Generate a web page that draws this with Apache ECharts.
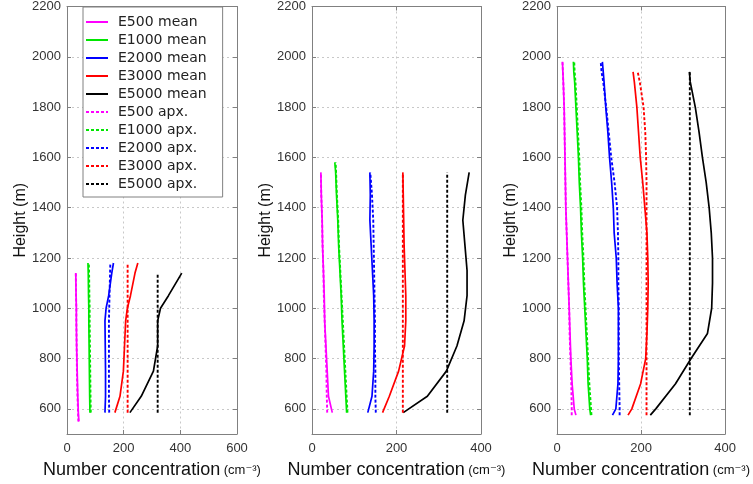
<!DOCTYPE html>
<html>
<head>
<meta charset="utf-8">
<script src="https://cdn.jsdelivr.net/npm/echarts@6/dist/echarts.min.js"></script>
<style>
  html, body { margin: 0; padding: 0; background: #fff; }
  #chart { width: 753px; height: 484px; }
</style>
</head>
<body>
<div id="chart"></div>
<script>
// Vertical profiles of number concentration for five emission cases,
// measured mean (solid) versus approximation (dashed), in three panels.

const seriesNames = ['E500', 'E1000', 'E2000', 'E3000', 'E5000'];
const seriesColors = ['#ff00ff', '#00e600', '#0000ff', '#ff0000', '#000000'];

const yTicks = [600, 800, 1000, 1200, 1400, 1600, 1800, 2000, 2200];

// ---- Panel 1 ----
const p1Heights = [550, 585, 650, 750, 850, 950, 1000, 1050, 1140, 1180];
const p1E500Mean  = [42, 40, 38, 36, 34, 33, 33, 32, 31, null];
const p1E500Apx   = [40, 39, 37, 35, 34, 33, 33, 32, 31, null];
const p1E1000Mean = [null, 81, 80, 79, 78, 77, 77, 76, 75, 74];
const p1E1000Apx  = [null, 84, 83, 82, 81, 80, 80, 79, 78, 77];
const p1E2000Mean = [null, 134, 136, 136, 135, 134, 138, 147, 158, 164];
const p1E2000Apx  = [null, 149, 148, 148, 148, 148, 149, 150, 152, 153];
const p1E3000Mean = [null, 169, 187, 199, 203, 207, 213, 224, 240, 250];
const p1E3000Apx  = [null, 214, 214, 214, 214, 214, 214, 214, 214, 214];
const p1E5000Mean = [null, 222, 262, 305, 320, 320, 330, 358, 405, null];
const p1E5000Apx  = [null, 320, 320, 320, 320, 320, 320, 320, 320, null];

// ---- Panel 2 ----
const p2Heights = [585, 650, 750, 850, 950, 1050, 1150, 1250, 1350, 1450, 1540, 1580];
const p2E500Mean  = [48, 39, 36, 33, 30, 29, 27, 25, 24, 22, 21, null];
const p2E500Apx   = [36, 35, 34, 32, 30, 28, 27, 25, 24, 22, 21, null];
const p2E1000Mean = [82, 80, 77, 74, 71, 69, 66, 63, 61, 58, 56, 54];
const p2E1000Apx  = [84, 82, 79, 76, 73, 70, 67, 64, 62, 59, 57, 56];
const p2E2000Mean = [132, 142, 146, 147, 147, 146, 143, 140, 137, 138, 137, null];
const p2E2000Apx  = [151, 150, 150, 149, 149, 148, 147, 146, 145, 142, 138, null];
const p2E3000Mean = [167, 183, 205, 219, 222, 222, 220, 218, 217, 216, 215, null];
const p2E3000Apx  = [215, 215, 215, 215, 215, 215, 215, 215, 215, 215, 215, null];
const p2E5000Mean = [216, 273, 318, 343, 360, 367, 367, 362, 357, 363, 372, null];
const p2E5000Apx  = [320, 320, 320, 320, 320, 320, 320, 320, 320, 320, 320, null];

// ---- Panel 3 ----
const p3Heights = [575, 600, 700, 800, 900, 1000, 1100, 1200, 1300, 1400, 1500, 1600, 1700, 1800, 1900, 1940, 1980];
const p3E500Mean  = [45, 41, 36, 33, 31, 29, 27, 25, 23, 21, 20, 19, 18, 17, 15, 14, 13];
const p3E500Apx   = [35, 35, 34, 32, 30, 29, 27, 25, 23, 21, 20, 19, 18, 17, 15, 14, 13];
const p3E1000Mean = [80, 78, 74, 72, 69, 66, 63, 61, 58, 56, 53, 51, 48, 45, 42, 40, 39];
const p3E1000Apx  = [82, 81, 77, 74, 71, 68, 65, 63, 60, 58, 55, 53, 50, 47, 44, 42, 41];
const p3E2000Mean = [132, 140, 145, 146, 146, 146, 143, 141, 136, 134, 130, 125, 121, 116, 112, 110, 108];
const p3E2000Apx  = [149, 149, 148, 147, 147, 147, 146, 146, 145, 143, 137, 129, 123, 117, 110, 106, 104];
const p3E3000Mean = [169, 178, 199, 211, 214, 216, 217, 216, 214, 209, 204, 198, 194, 190, 184, 181, null];
const p3E3000Apx  = [213, 213, 213, 213, 213, 213, 213, 213, 213, 213, 213, 212, 210, 206, 197, 192, null];
const p3E5000Mean = [222, 235, 282, 319, 358, 368, 370, 370, 367, 362, 355, 346, 338, 329, 317, 315, null];
const p3E5000Apx  = [316, 316, 316, 316, 316, 316, 316, 316, 316, 316, 316, 316, 316, 316, 316, 316, null];

const panels = [
  { heights: p1Heights, xMax: 600,
    mean: [p1E500Mean, p1E1000Mean, p1E2000Mean, p1E3000Mean, p1E5000Mean],
    apx:  [p1E500Apx,  p1E1000Apx,  p1E2000Apx,  p1E3000Apx,  p1E5000Apx] },
  { heights: p2Heights, xMax: 400,
    mean: [p2E500Mean, p2E1000Mean, p2E2000Mean, p2E3000Mean, p2E5000Mean],
    apx:  [p2E500Apx,  p2E1000Apx,  p2E2000Apx,  p2E3000Apx,  p2E5000Apx] },
  { heights: p3Heights, xMax: 400,
    mean: [p3E500Mean, p3E1000Mean, p3E2000Mean, p3E3000Mean, p3E5000Mean],
    apx:  [p3E500Apx,  p3E1000Apx,  p3E2000Apx,  p3E3000Apx,  p3E5000Apx] }
];

const gridLefts = [67, 312, 557];
const gridWidths = [170, 169, 169];

function profile(values, heights) {
  const out = [];
  heights.forEach((h, i) => { if (values[i] != null) out.push([values[i], h]); });
  return out;
}

const plain = v => String(v);
const labelFont = { fontFamily: 'Liberation Sans, Arial, sans-serif', fontSize: 13, color: '#333' };
const gridLine = { show: true, lineStyle: { color: '#c8c8c8', type: [2, 3], width: 1 } };
const boxLine = { show: true, onZero: false, lineStyle: { color: '#808080', width: 1 } };
const tickIn = { show: true, inside: true, length: 4, lineStyle: { color: '#808080' } };

const grid = [], xAxis = [], yAxis = [], series = [];

panels.forEach((p, k) => {
  grid.push({ left: gridLefts[k], top: 6, width: gridWidths[k], height: 429 });

  // bottom value axis
  xAxis.push({
    type: 'value', gridIndex: k, min: 0, max: p.xMax, interval: 200,
    axisLine: boxLine, axisTick: tickIn, splitLine: gridLine,
    axisLabel: Object.assign({ margin: 8, formatter: plain }, labelFont),
    name: '{a|Number concentration}{b| (cm\u207B\u00B3)}',
    nameLocation: 'middle', nameGap: 27,
    nameTextStyle: {
      rich: {
        a: { fontFamily: 'Liberation Sans, Arial, sans-serif', fontSize: 18, color: '#111' },
        b: { fontFamily: 'Liberation Sans, DejaVu Sans, sans-serif', fontSize: 13, color: '#111' }
      }
    }
  });
  // left value axis
  yAxis.push({
    type: 'value', gridIndex: k, min: 500, max: 2200,
    axisLine: boxLine,
    axisTick: Object.assign({ customValues: yTicks }, tickIn),
    splitLine: gridLine,
    axisLabel: Object.assign({ margin: 6, customValues: yTicks, formatter: plain }, labelFont),
    name: 'Height (m)', nameLocation: 'middle', nameGap: 31,
    nameTextStyle: { fontFamily: 'Liberation Sans, Arial, sans-serif', fontSize: 16, color: '#111' }
  });
});

// top and right frame axes carrying inward ticks
panels.forEach((p, k) => {
  xAxis.push({
    type: 'value', gridIndex: k, position: 'top', min: 0, max: p.xMax, interval: 200,
    axisLine: boxLine, axisTick: tickIn, splitLine: { show: false }, axisLabel: { show: false }
  });
  yAxis.push({
    type: 'value', gridIndex: k, position: 'right', min: 500, max: 2200,
    axisLine: boxLine, axisTick: Object.assign({ customValues: yTicks }, tickIn),
    splitLine: { show: false }, axisLabel: { show: false, customValues: yTicks }
  });
});

panels.forEach((p, k) => {
  seriesNames.forEach((nm, j) => {
    series.push({
      name: nm + ' mean', type: 'line', xAxisIndex: k, yAxisIndex: k,
      data: profile(p.mean[j], p.heights), symbol: 'none', silent: true,
      lineStyle: { color: seriesColors[j], width: 1.7 }, itemStyle: { color: seriesColors[j] },
      z: 3
    });
  });
});
panels.forEach((p, k) => {
  seriesNames.forEach((nm, j) => {
    series.push({
      name: nm + ' apx.', type: 'line', xAxisIndex: k, yAxisIndex: k,
      data: profile(p.apx[j], p.heights), symbol: 'none', silent: true,
      lineStyle: { color: seriesColors[j], width: 1.9, type: [3, 2] }, itemStyle: { color: seriesColors[j] },
      z: 4
    });
  });
});

const legendNames = seriesNames.map(n => n + ' mean').concat(seriesNames.map(n => n + ' apx.'));

const chart = echarts.init(document.getElementById('chart'), null, { renderer: 'canvas' });
chart.setOption({
  animation: false,
  backgroundColor: '#fff',
  grid, xAxis, yAxis, series,
  legend: {
    data: legendNames, orient: 'vertical', left: 83, top: 7,
    backgroundColor: '#fff', borderColor: '#808080', borderWidth: 1,
    padding: [8, 16, 6, 2], itemWidth: 22, itemHeight: 14, itemGap: 4,
    selectedMode: false,
    itemStyle: { opacity: 0 },
    textStyle: { fontFamily: 'DejaVu Sans, sans-serif', fontSize: 14, color: '#222', padding: [0, 0, 0, 5] }
  }
});
</script>
</body>
</html>
